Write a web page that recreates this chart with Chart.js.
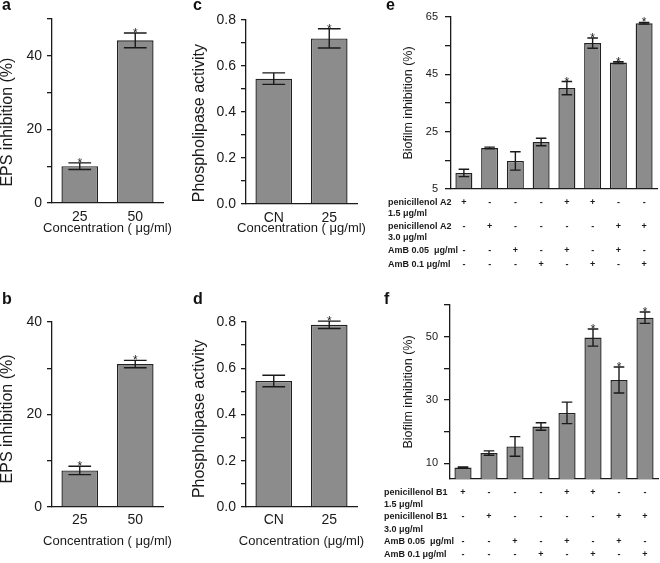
<!DOCTYPE html>
<html lang="en">
<head>
<meta charset="UTF-8">
<title>EPS, phospholipase and biofilm inhibition</title>
<script src="https://cdn.jsdelivr.net/npm/chart.js"></script>
<style>
  body { margin: 0; background: #fff; }
  #fig { position: relative; width: 660px; height: 563px; overflow: hidden; }
  .panel { position: absolute; }
  .tag { position: absolute; font: bold 16px "Liberation Sans", Arial, sans-serif; line-height: 16px; color: #111; }
</style>
</head>
<body>
<div id="fig">
  <div class="panel" style="left:0;top:0;width:200px;height:250px"><canvas id="chartA"></canvas></div>
  <div class="panel" style="left:0;top:280px;width:200px;height:283px"><canvas id="chartB"></canvas></div>
  <div class="panel" style="left:190px;top:0;width:200px;height:250px"><canvas id="chartC"></canvas></div>
  <div class="panel" style="left:190px;top:280px;width:200px;height:283px"><canvas id="chartD"></canvas></div>
  <div class="panel" style="left:380px;top:0;width:280px;height:280px"><canvas id="chartE"></canvas></div>
  <div class="panel" style="left:380px;top:280px;width:280px;height:283px"><canvas id="chartF"></canvas></div>
  <div class="tag" style="left:2px;top:-3px">a</div>
  <div class="tag" style="left:2px;top:291px">b</div>
  <div class="tag" style="left:193px;top:-3px">c</div>
  <div class="tag" style="left:193px;top:291px">d</div>
  <div class="tag" style="left:386px;top:-3px">e</div>
  <div class="tag" style="left:384px;top:291px">f</div>
</div>

<script>
  // a / b : EPS inhibition
  const concEps = ['25', '50'];
  const epsA = [10.0, 44.2];
  const epsAErr = [0.9, 2.0];
  const epsAStar = [true, true];
  const epsB = [7.9, 30.9];
  const epsBErr = [0.9, 0.8];
  const epsBStar = [true, true];

  // c / d : phospholipase activity
  const concPhos = ['CN', '25'];
  const phosC = [0.545, 0.72];
  const phosCErr = [0.025, 0.042];
  const phosCStar = [false, true];
  const phosD = [0.545, 0.788];
  const phosDErr = [0.025, 0.016];
  const phosDStar = [false, true];

  // e / f : biofilm inhibition, 8 treatment groups
  const groups = ['1', '2', '3', '4', '5', '6', '7', '8'];
  const biofilmE = [10.6, 19.3, 14.8, 21.4, 40.2, 55.9, 49.1, 62.8];
  const biofilmEErr = [1.3, 0.3, 3.2, 1.3, 2.3, 1.8, 0.3, 0.3];
  const biofilmEStar = [false, false, false, false, true, true, true, true];
  const biofilmF = [8.6, 13.2, 15.3, 21.6, 25.9, 49.7, 36.3, 56.0];
  const biofilmFErr = [0.2, 0.7, 3.1, 1.2, 3.4, 2.7, 4.1, 1.8];
  const biofilmFStar = [false, false, false, false, false, true, true, true];

  // treatment table (+/-)
  const signsDrugLow = ['+', '-', '-', '-', '+', '+', '-', '-'];
  const signsDrugHigh = ['-', '+', '-', '-', '-', '-', '+', '+'];
  const signsAmBLow = ['-', '-', '+', '-', '+', '-', '+', '-'];
  const signsAmBHigh = ['-', '-', '-', '+', '-', '+', '-', '+'];
  const tableLabelsE = ['penicillenol A2', '1.5 μg/ml', 'penicillenol A2', '3.0 μg/ml', 'AmB 0.05  μg/ml', 'AmB 0.1 μg/ml'];
  const tableLabelsF = ['penicillenol B1', '1.5 μg/ml', 'penicillenol B1', '3.0 μg/ml', 'AmB 0.05  μg/ml', 'AmB 0.1 μg/ml'];

  // y ticks and their labels
  const ticksA = [0, 10, 20, 30, 40, 50];
  const tickLabelsA = ['0', '', '20', '', '40', ''];
  const ticksB = [0, 10, 20, 30, 40];
  const tickLabelsB = ['0', '', '20', '', '40'];
  const ticksCD = [0, 0.1, 0.2, 0.3, 0.4, 0.5, 0.6, 0.7, 0.8];
  const tickLabelsCD = ['0.0', '', '0.2', '', '0.4', '', '0.6', '', '0.8'];
  const ticksE = [5, 15, 25, 35, 45, 55, 65];
  const tickLabelsE = ['5', '', '25', '', '45', '', '65'];
  const ticksF = [10, 20, 30, 40, 50, 60];
  const tickLabelsF = ['10', '', '30', '', '50', ''];

  const FONT = '"Liberation Sans", Arial, sans-serif';
  const INK = '#1a1a1a';
  Chart.defaults.font.family = FONT;
  Chart.defaults.color = INK;

  // error bars + significance stars, read from dataset.errors / dataset.stars
  const errorBars = {
    id: 'errorBars',
    afterDatasetsDraw(chart) {
      const { ctx, scales: { y } } = chart;
      const ds = chart.data.datasets[0];
      const meta = chart.getDatasetMeta(0);
      ctx.save();
      ctx.strokeStyle = INK;
      ctx.fillStyle = INK;
      ctx.lineWidth = 1.4;
      ctx.font = '12px ' + FONT;
      ctx.textAlign = 'center';
      meta.data.forEach((bar, i) => {
        const v = ds.data[i], e = ds.errors[i];
        const top = y.getPixelForValue(v + e);
        const bot = y.getPixelForValue(v - e);
        const half = bar.width * 0.31;
        ctx.beginPath();
        ctx.moveTo(bar.x, top); ctx.lineTo(bar.x, bot);
        ctx.moveTo(bar.x - half, top); ctx.lineTo(bar.x + half, top);
        ctx.moveTo(bar.x - half, bot); ctx.lineTo(bar.x + half, bot);
        ctx.stroke();
        if (ds.stars[i]) ctx.fillText('*', bar.x, top + 4);
      });
      ctx.restore();
    }
  };

  // x title wider than the axis itself, so it is drawn here instead of being squeezed
  function xAxisTitle(text, dy) {
    return {
      id: 'xAxisTitle',
      afterDraw(chart) {
        const { ctx, chartArea } = chart;
        ctx.save();
        ctx.fillStyle = INK;
        ctx.font = '13px ' + FONT;
        ctx.textAlign = 'center';
        ctx.textBaseline = 'middle';
        ctx.fillText(text, (chartArea.left + chartArea.right) / 2, chartArea.bottom + dy);
        ctx.restore();
      }
    };
  }

  // +/- table under the biofilm panels
  function treatmentTable(labels, rows, labelX, labelDy, rowDy) {
    return {
      id: 'treatmentTable',
      afterDraw(chart) {
        const { ctx, chartArea, scales: { x } } = chart;
        ctx.save();
        ctx.fillStyle = INK;
        ctx.font = 'bold 9px ' + FONT;
        ctx.textBaseline = 'middle';
        ctx.textAlign = 'left';
        labels.forEach((t, i) => ctx.fillText(t, labelX, chartArea.bottom + labelDy[i]));
        ctx.textAlign = 'center';
        rows.forEach((row, r) => {
          row.forEach((s, i) => ctx.fillText(s, x.getPixelForValue(i), chartArea.bottom + rowDy[r]));
        });
        ctx.restore();
      }
    };
  }

  function makePanel(id, p) {
    return new Chart(document.getElementById(id), {
      type: 'bar',
      data: {
        labels: p.labels,
        datasets: [{
          data: p.values,
          errors: p.errors,
          stars: p.stars,
          base: p.min,
          backgroundColor: '#8c8c8c',
          borderColor: '#222',
          borderWidth: 1.4,
          barPercentage: p.barPct,
          categoryPercentage: 1
        }]
      },
      options: {
        responsive: true,
        maintainAspectRatio: false,
        animation: false,
        layout: { padding: p.padding },
        plugins: { legend: { display: false }, tooltip: { enabled: false } },
        scales: {
          x: {
            grid: { display: true, drawOnChartArea: false, drawTicks: false },
            border: { color: INK, width: 1.3 },
            ticks: { display: p.showX, font: { size: 14 }, padding: p.xPad, color: INK },
            afterFit(s) { s.height = p.xHeight; }
          },
          y: {
            min: p.min,
            max: p.max,
            afterBuildTicks(s) { s.ticks = p.ticks.map(v => ({ value: v })); },
            grid: { drawOnChartArea: false, drawTicks: true, tickLength: p.tickLen, color: INK, lineWidth: 1.3 },
            border: { color: INK, width: 1.3 },
            ticks: { autoSkip: false, font: { size: p.tickSize }, padding: p.tickPad, color: INK,
                     callback: (v, i) => p.tickLabels[i] },
            title: {
              display: true, text: p.yTitle, color: INK,
              font: { size: p.yTitleSize, lineHeight: 1 }, padding: { top: p.yTitlePad, bottom: 0 }
            },
            afterFit(s) { s.width = p.yWidth; }
          }
        }
      },
      plugins: [errorBars].concat(p.extra || [])
    });
  }

  // trailing spaces push the centred y titles a little lower, as in the figure
  makePanel('chartA', {
    labels: concEps, values: epsA, errors: epsAErr, stars: epsAStar,
    min: 0, max: 50, ticks: ticksA, tickLabels: tickLabelsA,
    yTitle: 'EPS inhibition (%)     ', yTitleSize: 16, yTitlePad: 0,
    showX: true, xPad: 6, xHeight: 47,
    yWidth: 52, padding: { top: 19, right: 37, left: 0, bottom: 0 },
    tickLen: 5, tickPad: 5, tickSize: 14, barPct: 0.66,
    extra: [xAxisTitle('Concentration ( μg/ml)', 25)]
  });
  makePanel('chartB', {
    labels: concEps, values: epsB, errors: epsBErr, stars: epsBStar,
    min: 0, max: 40, ticks: ticksB, tickLabels: tickLabelsB,
    yTitle: 'EPS inhibition (%)  ', yTitleSize: 16, yTitlePad: 0,
    showX: true, xPad: 5, xHeight: 56,
    yWidth: 52, padding: { top: 42, right: 37, left: 0, bottom: 0 },
    tickLen: 5, tickPad: 5, tickSize: 14, barPct: 0.66,
    extra: [xAxisTitle('Concentration ( μg/ml)', 34)]
  });
  makePanel('chartC', {
    labels: concPhos, values: phosC, errors: phosCErr, stars: phosCStar,
    min: 0, max: 0.8, ticks: ticksCD, tickLabels: tickLabelsCD,
    yTitle: 'Phospholipase activity     ', yTitleSize: 16, yTitlePad: 2,
    showX: true, xPad: 6, xHeight: 46,
    yWidth: 56, padding: { top: 20, right: 33, left: 0, bottom: 0 },
    tickLen: 5, tickPad: 5, tickSize: 14, barPct: 0.66,
    extra: [xAxisTitle('Concentration ( μg/ml)', 24)]
  });
  makePanel('chartD', {
    labels: concPhos, values: phosD, errors: phosDErr, stars: phosDStar,
    min: 0, max: 0.8, ticks: ticksCD, tickLabels: tickLabelsCD,
    yTitle: 'Phospholipase activity  ', yTitleSize: 16, yTitlePad: 2,
    showX: true, xPad: 5, xHeight: 56,
    yWidth: 56, padding: { top: 42, right: 33, left: 0, bottom: 0 },
    tickLen: 5, tickPad: 5, tickSize: 14, barPct: 0.66,
    extra: [xAxisTitle('Concentration (μg/ml)', 34)]
  });
  makePanel('chartE', {
    labels: groups, values: biofilmE, errors: biofilmEErr, stars: biofilmEStar,
    min: 5, max: 65, ticks: ticksE, tickLabels: tickLabelsE,
    yTitle: 'Biofilm inhibition (%)', yTitleSize: 12.5, yTitlePad: 22,
    showX: false, xPad: 0, xHeight: 91,
    yWidth: 71, padding: { top: 17, right: 3, left: 0, bottom: 0 },
    tickLen: 6, tickPad: 7, tickSize: 11, barPct: 0.66,
    extra: [treatmentTable(tableLabelsE, [signsDrugLow, signsDrugHigh, signsAmBLow, signsAmBHigh],
                           8, [14, 25, 38, 49, 62, 76], [14, 38, 62, 76])]
  });
  makePanel('chartF', {
    labels: groups, values: biofilmF, errors: biofilmFErr, stars: biofilmFStar,
    min: 5, max: 60, ticks: ticksF, tickLabels: tickLabelsF,
    yTitle: 'Biofilm inhibition (%)', yTitleSize: 12.5, yTitlePad: 22,
    showX: false, xPad: 0, xHeight: 84,
    yWidth: 70, padding: { top: 25, right: 2, left: 0, bottom: 0 },
    tickLen: 6, tickPad: 6, tickSize: 11, barPct: 0.66,
    extra: [treatmentTable(tableLabelsF, [signsDrugLow, signsDrugHigh, signsAmBLow, signsAmBHigh],
                           4, [14, 26, 38, 51, 63, 76], [14, 38, 63, 76])]
  });
</script>
</body>
</html>
